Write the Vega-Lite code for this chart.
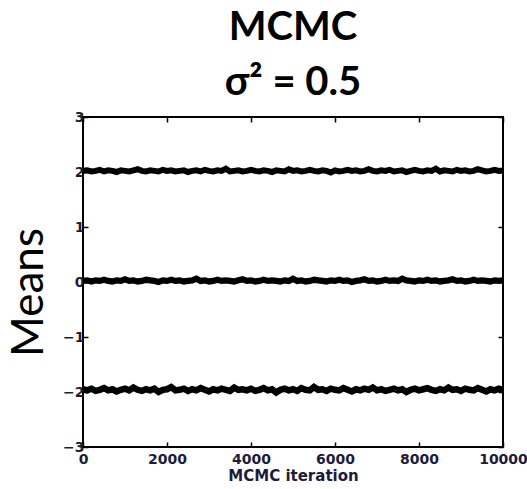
{
  "$schema": "https://vega.github.io/schema/vega-lite/v6.json",
  "width": 420,
  "height": 330,
  "autosize": {"type": "none"},
  "padding": {"left": 83, "top": 117, "right": 24, "bottom": 42},
  "background": "white",
  "title": {
    "text": ["MCMC", "σ² = 0.5"],
    "font": "Lato",
    "fontSize": 40,
    "fontWeight": "bold",
    "color": "black",
    "lineHeight": 55,
    "anchor": "middle",
    "offset": 7
  },
  "config": {
    "view": {"stroke": "black", "strokeWidth": 2},
    "axis": {
      "domain": false,
      "grid": false,
      "ticks": true,
      "tickColor": "black",
      "tickSize": -5,
      "tickWidth": 1.5,
      "labelFont": "DejaVu Sans",
      "labelFontWeight": "bold",
      "labelFontSize": 14,
      "labelColor": "#1c1c3a",
      "titleFont": "DejaVu Sans",
      "titleFontWeight": "bold",
      "titleFontSize": 15,
      "titleColor": "#1c1c3a"
    }
  },
  "data": {
    "values": [
      {"i":0,"a":2.02,"b":0.02,"c":-1.95},
      {"i":100,"a":2.03,"b":0.03,"c":-1.97},
      {"i":200,"a":2.01,"b":0.01,"c":-1.94},
      {"i":300,"a":2.02,"b":0.03,"c":-1.98},
      {"i":400,"a":2.04,"b":0.02,"c":-1.96},
      {"i":500,"a":2.01,"b":0.04,"c":-1.93},
      {"i":600,"a":2.03,"b":0.02,"c":-1.97},
      {"i":700,"a":2.02,"b":0.01,"c":-1.95},
      {"i":800,"a":2.00,"b":0.03,"c":-1.99},
      {"i":900,"a":2.03,"b":0.02,"c":-1.96},
      {"i":1000,"a":2.02,"b":0.05,"c":-1.94},
      {"i":1100,"a":2.01,"b":0.02,"c":-1.97},
      {"i":1200,"a":2.03,"b":0.03,"c":-1.92},
      {"i":1300,"a":2.05,"b":0.01,"c":-1.96},
      {"i":1400,"a":2.02,"b":0.02,"c":-1.98},
      {"i":1500,"a":2.01,"b":0.04,"c":-1.95},
      {"i":1600,"a":2.03,"b":0.03,"c":-1.97},
      {"i":1700,"a":2.02,"b":0.02,"c":-1.94},
      {"i":1800,"a":2.01,"b":0.00,"c":-2.00},
      {"i":1900,"a":2.04,"b":0.03,"c":-1.96},
      {"i":2000,"a":2.02,"b":0.02,"c":-1.95},
      {"i":2100,"a":2.03,"b":0.04,"c":-1.91},
      {"i":2200,"a":2.01,"b":0.02,"c":-1.97},
      {"i":2300,"a":2.02,"b":0.03,"c":-1.96},
      {"i":2400,"a":2.03,"b":0.01,"c":-1.94},
      {"i":2500,"a":2.00,"b":0.02,"c":-1.98},
      {"i":2600,"a":2.02,"b":0.03,"c":-1.95},
      {"i":2700,"a":2.03,"b":0.06,"c":-1.97},
      {"i":2800,"a":2.01,"b":0.02,"c":-1.93},
      {"i":2900,"a":2.04,"b":0.03,"c":-1.96},
      {"i":3000,"a":2.02,"b":0.01,"c":-1.99},
      {"i":3100,"a":2.01,"b":0.02,"c":-1.95},
      {"i":3200,"a":2.03,"b":0.04,"c":-1.97},
      {"i":3300,"a":2.02,"b":0.02,"c":-1.94},
      {"i":3400,"a":2.06,"b":0.03,"c":-1.96},
      {"i":3500,"a":2.01,"b":0.02,"c":-1.98},
      {"i":3600,"a":2.02,"b":0.01,"c":-1.92},
      {"i":3700,"a":2.03,"b":0.03,"c":-1.96},
      {"i":3800,"a":2.01,"b":0.05,"c":-1.95},
      {"i":3900,"a":2.02,"b":0.02,"c":-1.97},
      {"i":4000,"a":2.04,"b":0.03,"c":-1.94},
      {"i":4100,"a":2.02,"b":0.01,"c":-1.98},
      {"i":4200,"a":2.01,"b":0.02,"c":-1.96},
      {"i":4300,"a":2.03,"b":0.04,"c":-1.93},
      {"i":4400,"a":2.02,"b":0.02,"c":-1.97},
      {"i":4500,"a":2.00,"b":0.03,"c":-1.95},
      {"i":4600,"a":2.03,"b":0.02,"c":-2.01},
      {"i":4700,"a":2.02,"b":0.01,"c":-1.96},
      {"i":4800,"a":2.01,"b":0.03,"c":-1.94},
      {"i":4900,"a":2.05,"b":0.02,"c":-1.97},
      {"i":5000,"a":2.02,"b":0.06,"c":-1.95},
      {"i":5100,"a":2.03,"b":0.02,"c":-1.98},
      {"i":5200,"a":2.01,"b":0.03,"c":-1.93},
      {"i":5300,"a":2.02,"b":0.01,"c":-1.96},
      {"i":5400,"a":2.04,"b":0.02,"c":-1.97},
      {"i":5500,"a":2.02,"b":0.04,"c":-1.91},
      {"i":5600,"a":2.01,"b":0.03,"c":-1.96},
      {"i":5700,"a":2.03,"b":0.02,"c":-1.95},
      {"i":5800,"a":2.02,"b":0.01,"c":-1.98},
      {"i":5900,"a":1.99,"b":0.03,"c":-1.94},
      {"i":6000,"a":2.03,"b":0.02,"c":-1.96},
      {"i":6100,"a":2.01,"b":0.04,"c":-1.97},
      {"i":6200,"a":2.02,"b":0.02,"c":-1.93},
      {"i":6300,"a":2.04,"b":0.03,"c":-1.96},
      {"i":6400,"a":2.02,"b":0.00,"c":-1.99},
      {"i":6500,"a":2.03,"b":0.02,"c":-1.95},
      {"i":6600,"a":2.01,"b":0.03,"c":-1.97},
      {"i":6700,"a":2.02,"b":0.05,"c":-1.94},
      {"i":6800,"a":2.05,"b":0.02,"c":-1.96},
      {"i":6900,"a":2.02,"b":0.03,"c":-1.92},
      {"i":7000,"a":2.01,"b":0.01,"c":-1.97},
      {"i":7100,"a":2.03,"b":0.02,"c":-1.95},
      {"i":7200,"a":2.02,"b":0.04,"c":-1.98},
      {"i":7300,"a":2.04,"b":0.02,"c":-1.96},
      {"i":7400,"a":2.01,"b":0.03,"c":-1.94},
      {"i":7500,"a":2.02,"b":0.02,"c":-1.97},
      {"i":7600,"a":2.03,"b":0.06,"c":-1.95},
      {"i":7700,"a":2.00,"b":0.03,"c":-2.00},
      {"i":7800,"a":2.02,"b":0.02,"c":-1.96},
      {"i":7900,"a":2.04,"b":0.01,"c":-1.94},
      {"i":8000,"a":2.02,"b":0.03,"c":-1.97},
      {"i":8100,"a":2.01,"b":0.02,"c":-1.95},
      {"i":8200,"a":2.03,"b":0.04,"c":-1.93},
      {"i":8300,"a":2.02,"b":0.02,"c":-1.96},
      {"i":8400,"a":2.06,"b":0.03,"c":-1.98},
      {"i":8500,"a":2.01,"b":0.01,"c":-1.95},
      {"i":8600,"a":2.03,"b":0.02,"c":-1.97},
      {"i":8700,"a":2.02,"b":0.03,"c":-1.92},
      {"i":8800,"a":2.01,"b":0.05,"c":-1.96},
      {"i":8900,"a":2.04,"b":0.02,"c":-1.95},
      {"i":9000,"a":2.02,"b":0.03,"c":-1.98},
      {"i":9100,"a":2.03,"b":0.01,"c":-1.94},
      {"i":9200,"a":2.01,"b":0.02,"c":-1.96},
      {"i":9300,"a":2.02,"b":0.04,"c":-1.97},
      {"i":9400,"a":2.05,"b":0.02,"c":-1.93},
      {"i":9500,"a":2.03,"b":0.03,"c":-1.96},
      {"i":9600,"a":2.01,"b":0.02,"c":-1.99},
      {"i":9700,"a":2.02,"b":0.01,"c":-1.95},
      {"i":9800,"a":2.04,"b":0.03,"c":-1.97},
      {"i":9900,"a":2.02,"b":0.02,"c":-1.94},
      {"i":10000,"a":2.03,"b":0.03,"c":-1.96}
    ]
  },
  "transform": [{"fold": ["a", "b", "c"], "as": ["chain", "mean"]}],
  "layer": [
    {
      "mark": {"type": "line", "color": "black", "clip": true},
      "encoding": {
        "x": {
          "field": "i", "type": "quantitative",
          "scale": {"domain": [0, 10000], "nice": false, "zero": false},
          "axis": {"orient": "bottom", "values": [0, 2000, 4000, 6000, 8000, 10000], "format": "d", "title": "MCMC iteration", "labelPadding": 10, "titlePadding": 2, "labelFlush": false}
        },
        "y": {
          "field": "mean", "type": "quantitative",
          "scale": {"domain": [-3, 3], "nice": false, "zero": false},
          "axis": {
            "orient": "left", "values": [-3, -2, -1, 0, 1, 2, 3], "labelPadding": 4, "labelFlush": false,
            "title": "Means", "titleFont": "Lato", "titleFontWeight": "normal", "titleFontSize": 44, "titleColor": "black",
            "titleAngle": -90, "titleAlign": "center", "titleBaseline": "alphabetic", "titleX": -41, "titleY": 175
          }
        },
        "detail": {"field": "chain", "type": "nominal"},
        "strokeWidth": {"field": "chain", "type": "nominal", "scale": {"domain": ["a", "b", "c"], "range": [6, 6.5, 9]}, "legend": null}
      }
    },
    {
      "mark": {"type": "point", "opacity": 0},
      "encoding": {
        "x": {
          "field": "i", "type": "quantitative",
          "axis": {"orient": "top", "values": [0, 2000, 4000, 6000, 8000, 10000], "labels": false, "title": null}
        },
        "y": {
          "field": "mean", "type": "quantitative",
          "axis": {"orient": "right", "values": [-3, -2, -1, 0, 1, 2, 3], "labels": false, "title": null}
        }
      }
    }
  ],
  "resolve": {"axis": {"x": "independent", "y": "independent"}}
}
